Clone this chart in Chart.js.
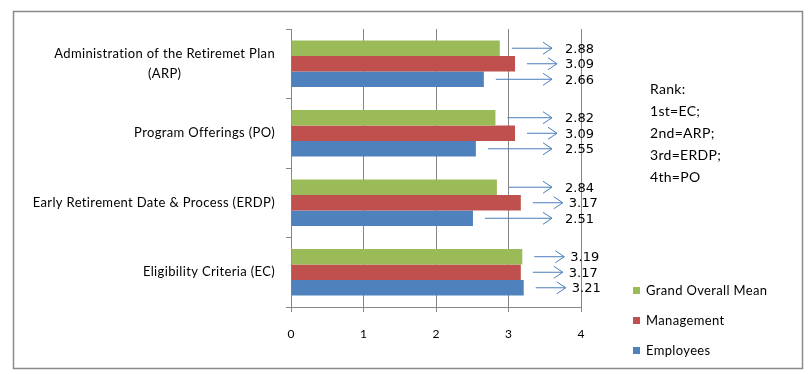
<!DOCTYPE html>
<html><head><meta charset="utf-8">
<script src="https://cdn.jsdelivr.net/npm/chart.js@4"></script>
<style>html,body{margin:0;padding:0;background:#fff}#wrap{width:812px;height:374px}</style>
</head><body><div id="wrap"><canvas id="c" width="812" height="374"></canvas></div>
<script>
const categories = [['Administration of the Retiremet Plan','(ARP)'], 'Program Offerings (PO)', 'Early Retirement Date & Process (ERDP)', 'Eligibility Criteria (EC)'];
const seriesNames = ['Grand Overall Mean', 'Management', 'Employees'];
const grandOverallMean = [2.88, 2.82, 2.84, 3.19];
const management = [3.09, 3.09, 3.17, 3.17];
const employees = [2.66, 2.55, 2.51, 3.21];
const xTickValues = [0, 1, 2, 3, 4];
const rankLines = ['Rank:', '1st=EC;', '2nd=ARP;', '3rd=ERDP;', '4th=PO'];

const colors = ['#9BBB59', '#C0504D', '#4F81BD'];
const FONT = 'Lato';
Chart.defaults.font.family = FONT;
Chart.defaults.color = '#000';

const deco = {
  id: 'deco',
  beforeDraw(chart) {
    const ctx = chart.ctx;
    ctx.save();
    ctx.fillStyle = '#fff';
    ctx.fillRect(0, 0, chart.width, chart.height);
    ctx.strokeStyle = '#8a8a8a';
    ctx.lineWidth = 1.5;
    ctx.strokeRect(13.5, 11.5, 789, 357);
    ctx.restore();
  },
  afterDatasetsDraw(chart) {
    const ctx = chart.ctx;
    const xs = chart.scales.x;
    ctx.save();
    chart.data.datasets.forEach((ds, i) => {
      const meta = chart.getDatasetMeta(i);
      meta.data.forEach((bar, j) => {
        const y = bar.y;
        const x1 = bar.x + 12;
        const x2 = Math.max(xs.getPixelForValue(3.6), x1 + 30);
        ctx.strokeStyle = '#4a7ebb';
        ctx.lineWidth = 1;
        ctx.beginPath();
        ctx.moveTo(x1, y); ctx.lineTo(x2, y);
        ctx.moveTo(x2 - 9, y - 6); ctx.lineTo(x2, y); ctx.lineTo(x2 - 9, y + 6);
        ctx.stroke();
        const lx = Math.max(xs.getPixelForValue(3.78), x2 + 6);
        ctx.fillStyle = '#000';
        ctx.font = '13px "DejaVu Sans"';
        ctx.textAlign = 'left';
        ctx.textBaseline = 'middle';
        ctx.fillText(ds.data[j].toFixed(2), lx, y + 1);
      });
    });
    ctx.restore();
  },
  afterDraw(chart) {
    const ctx = chart.ctx;
    const ys = chart.scales.y;
    ctx.save();
    ctx.fillStyle = '#000';
    ctx.font = '13px ' + FONT;
    ctx.letterSpacing = '0.35px';
    ctx.textBaseline = 'middle';
    const rx = ys.right - 16;
    chart.data.labels.forEach((lab, i) => {
      const cy = ys.getPixelForValue(i);
      if (Array.isArray(lab)) {
        const lh = 20;
        const w0 = ctx.measureText(lab[0]).width;
        const cx = rx - w0 / 2;
        lab.forEach((ln, k) => {
          const yy = cy + (k - (lab.length - 1) / 2) * lh;
          ctx.textAlign = 'center';
          ctx.fillText(ln, cx, yy);
        });
      } else {
        ctx.textAlign = 'right';
        ctx.fillText(lab, rx, cy);
      }
    });
    // rank text
    ctx.textAlign = 'left';
    ctx.font = '14px ' + FONT;
    ctx.letterSpacing = '0.3px';
    rankLines.forEach((t, i) => ctx.fillText(t, 650, 89 + i * 22));
    // legend
    ctx.font = '13px ' + FONT;
    ctx.letterSpacing = '0.35px';
    chart.data.datasets.forEach((ds, i) => {
      const yy = 291 + i * 30;
      ctx.fillStyle = ds.backgroundColor;
      ctx.fillRect(633, yy - 4, 7, 7);
      ctx.fillStyle = '#000';
      ctx.fillText(ds.label, 646, yy);
    });
    ctx.restore();
  }
};

new Chart(document.getElementById('c'), {
  type: 'bar',
  data: {
    labels: categories,
    datasets: [
      { label: seriesNames[0], data: grandOverallMean, backgroundColor: colors[0] },
      { label: seriesNames[1], data: management, backgroundColor: colors[1] },
      { label: seriesNames[2], data: employees, backgroundColor: colors[2] }
    ]
  },
  options: {
    indexAxis: 'y',
    responsive: false,
    animation: false,
    devicePixelRatio: 1,
    datasets: { bar: { categoryPercentage: 0.67, barPercentage: 1.0 } },
    layout: { padding: { left: 0, right: 231, top: 29, bottom: 0 } },
    plugins: { legend: { display: false }, tooltip: { enabled: false } },
    scales: {
      x: {
        min: 0, max: 4,
        afterBuildTicks(scale) { scale.ticks = xTickValues.map(v => ({ value: v })); },
        afterFit(scale) { scale.height = 67; },
        grid: { color: '#868686', lineWidth: 1, drawTicks: true, tickLength: 5, tickColor: '#868686' },
        border: { color: '#868686' },
        ticks: { padding: 15, font: { size: 12, family: FONT }, color: '#000' }
      },
      y: {
        afterFit(scale) { scale.width = 291; },
        grid: { drawOnChartArea: false, drawTicks: true, tickLength: 5, color: '#868686', offset: true },
        border: { color: '#868686' },
        ticks: { display: false }
      }
    }
  },
  plugins: [deco]
});
</script>
</body></html>
